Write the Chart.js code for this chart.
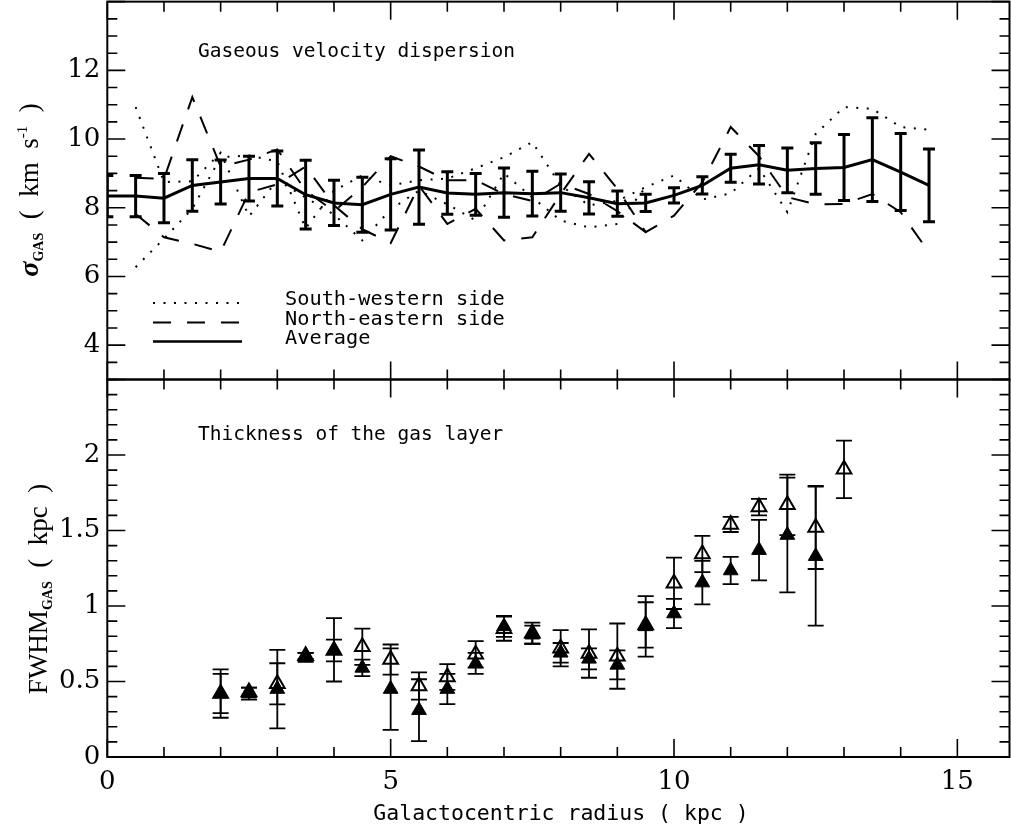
<!DOCTYPE html>
<html><head><meta charset="utf-8">
<script src="https://cdn.jsdelivr.net/npm/chart.js@4.4.1/dist/chart.umd.min.js"></script>
<style>
html,body{margin:0;padding:0;background:#fff;overflow:hidden;}
#wrap{position:relative;width:1011px;height:831px;background:#fff;}
canvas{position:absolute;left:0;top:0;}
</style></head><body>
<div id="wrap"><canvas id="topChart" width="1011" height="831"></canvas><canvas id="botChart" width="1011" height="831"></canvas></div>
<script>
// ---------------- DATA ----------------
const radiusAvg = [0,0.5,1,1.5,2,2.5,3,3.5,4,4.5,5,5.5,6,6.5,7,7.5,8,8.5,9,9.5,10,10.5,11,11.5,12,12.5,13,13.5,14,14.5];
const sigmaAvg  = [8.34,8.34,8.28,8.65,8.75,8.85,8.85,8.38,8.14,8.09,8.39,8.60,8.43,8.39,8.44,8.41,8.44,8.29,8.12,8.14,8.36,8.65,9.15,9.25,9.09,9.14,9.17,9.40,9.04,8.65];
const sigmaAvgErr = [0.60,0.60,0.72,0.75,0.64,0.65,0.80,1.00,0.66,0.80,1.04,1.08,0.62,0.61,0.72,0.65,0.54,0.47,0.37,0.25,0.22,0.25,0.41,0.56,0.65,0.75,0.96,1.22,1.12,1.06];

const radiusSide = [0.5,1,1.5,2,2.5,3,3.5,4,4.5,5,5.5,6,6.5,7,7.5,8,8.5,9,9.5,10,10.5,11,11.5,12,12.5,13,13.5,14,14.5];
const sigmaSW = [6.27,7.10,7.97,9.47,9.52,9.35,7.40,8.50,8.94,8.65,8.80,8.85,9.15,9.47,9.91,8.65,8.07,8.20,8.60,8.94,8.24,8.42,9.15,7.87,10.15,10.93,10.88,10.35,10.27];
const sigmaNE = [7.82,7.14,6.95,6.72,8.45,8.68,9.20,8.07,7.38,6.97,8.64,7.53,7.97,7.05,7.14,8.40,9.57,8.55,7.29,7.77,8.74,10.35,9.50,8.31,8.10,8.11,8.40,7.87,6.70];

const radiusSideInner = [0.5,1,1.5,2,2.5,3,3.5,4,4.5,5,5.5,6,6.5,7,7.5,8,8.5,9,9.5];
const sigmaSW2 = [10.93,8.75,8.77,9.60,7.75,8.80,8.30,7.80,7.05,7.95,8.50,8.10,7.63,9.00,8.30,7.63,7.43,7.53,8.60];
const sigmaNE2 = [8.87,8.84,11.22,9.20,9.40,9.70,8.50,7.90,8.60,9.50,9.20,8.80,8.80,8.40,8.20,8.70,8.40,7.90,7.29];

const radiusFwhm = [2,2.5,3,3.5,4,4.5,5,5.5,6,6.5,7,7.5,8,8.5,9,9.5,10,10.5,11,11.5,12,12.5,13];
const fwhmFilled    = [0.42,0.42,0.45,0.66,0.71,0.59,0.45,0.31,0.45,0.62,0.865,0.81,0.69,0.65,0.61,0.865,0.95,1.155,1.235,1.37,1.47,1.33,null];
const fwhmFilledErr = [0.16,0.04,0.26,0.03,0.21,0.055,0.27,0.205,0.10,0.07,0.07,0.06,0.065,0.07,0.096,0.20,0.097,0.144,0.09,0.20,0.38,0.46,null];
const fwhmOpen      = [0.42,0.43,0.485,0.67,0.705,0.73,0.645,0.47,0.53,0.68,0.85,0.82,0.72,0.685,0.668,0.875,1.15,1.345,1.54,1.655,1.67,1.52,1.905];
const fwhmOpenErr   = [0.13,0.03,0.136,0.02,0.072,0.12,0.10,0.09,0.085,0.088,0.08,0.07,0.12,0.16,0.216,0.15,0.17,0.12,0.05,0.055,0.20,0.275,0.19];

const xTickLabels = [0,5,10,15];
const topTickLabels = [4,6,8,10,12];
const botTickLabels = [0,0.5,1,1.5,2];

// ---------------- STYLE / LAYOUT ----------------
const X_MAX = 15.92;
const AREA_TOP = {left: 107.3, right: 1009.5, top: 1.65, bottom: 379.5};
const AREA_BOT = {left: 107.3, right: 1009.5, top: 379.5, bottom: 757};
const DOT = [2, 8.5], DASH = [18, 16];
const tickFont = {family: 'DejaVu Serif', size: 26};
const monoFont = '"DejaVu Sans Mono", monospace';
const serif = '"Liberation Serif", "DejaVu Serif", serif';

const pts = (xs, ys) => xs.map((x, i) => ({x, y: ys[i]}));

const errorBars = {
  id: 'errorBars',
  afterDatasetsDraw(chart) {
    const {ctx, chartArea: a} = chart;
    const xs = chart.scales.x, ys = chart.scales.y;
    ctx.save();
    ctx.beginPath(); ctx.rect(a.left, a.top, a.right - a.left, a.bottom - a.top); ctx.clip();
    chart.data.datasets.forEach(ds => {
      if (!ds.errors) return;
      ctx.strokeStyle = '#000'; ctx.lineWidth = ds.errWidth; ctx.setLineDash([]);
      ds.data.forEach((p, i) => {
        const e = ds.errors[i];
        if (p.y == null || e == null) return;
        const px = xs.getPixelForValue(p.x), y1 = ys.getPixelForValue(p.y + e), y2 = ys.getPixelForValue(p.y - e);
        const c = ds.errCap;
        ctx.beginPath();
        ctx.moveTo(px, y1); ctx.lineTo(px, y2);
        ctx.moveTo(px - c, y1); ctx.lineTo(px + c, y1);
        ctx.moveTo(px - c, y2); ctx.lineTo(px + c, y2);
        ctx.stroke();
      });
    });
    ctx.restore();
  }
};

function makeFrame(yMajor, yMinor) {
  return {
    id: 'frame',
    afterDraw(chart) {
      const {ctx, chartArea: a} = chart;
      const xs = chart.scales.x, ys = chart.scales.y;
      ctx.save();
      ctx.strokeStyle = '#000'; ctx.lineWidth = 2; ctx.setLineDash([]);
      ctx.strokeRect(a.left, a.top, a.right - a.left, a.bottom - a.top);
      ctx.lineWidth = 1.6;
      ctx.beginPath();
      for (let v = 0; v <= X_MAX + 1e-9; v += 1) {
        const L = (Math.abs(v % 5) < 1e-9) ? 18 : 10;
        const px = xs.getPixelForValue(v);
        ctx.moveTo(px, a.bottom); ctx.lineTo(px, a.bottom - L);
        ctx.moveTo(px, a.top); ctx.lineTo(px, a.top + L);
      }
      const n0 = Math.ceil(ys.min / yMinor - 1e-9), n1 = Math.floor(ys.max / yMinor + 1e-9);
      for (let k = n0; k <= n1; k++) {
        const v = k * yMinor;
        const r = v / yMajor;
        const L = Math.abs(r - Math.round(r)) < 1e-6 ? 18 : 10;
        const py = ys.getPixelForValue(v);
        ctx.moveTo(a.left, py); ctx.lineTo(a.left + L, py);
        ctx.moveTo(a.right, py); ctx.lineTo(a.right - L, py);
      }
      ctx.stroke();
      ctx.restore();
    }
  };
}

function drawRich(ctx, segs, x, y) {
  let cx = x;
  segs.forEach(s => {
    ctx.font = s.font;
    ctx.fillText(s.t, cx, y + (s.dy || 0));
    cx += ctx.measureText(s.t).width;
  });
}
function richWidth(ctx, segs) {
  let w = 0;
  segs.forEach(s => { ctx.font = s.font; w += ctx.measureText(s.t).width; });
  return w;
}

const topTexts = {
  id: 'topTexts',
  afterDraw(chart) {
    const ctx = chart.ctx;
    ctx.save();
    ctx.fillStyle = '#000'; ctx.textBaseline = 'alphabetic'; ctx.textAlign = 'left';
    ctx.font = '19.5px ' + monoFont;
    ctx.fillText('Gaseous velocity dispersion', 198, 57);
    const items = [
      {label: 'South-western side', dash: DOT, w: 2, y: 303},
      {label: 'North-eastern side', dash: DASH, w: 2, y: 322.5},
      {label: 'Average', dash: [], w: 2.6, y: 341.5}
    ];
    items.forEach(it => {
      ctx.beginPath(); ctx.setLineDash(it.dash); ctx.lineWidth = it.w; ctx.strokeStyle = '#000';
      ctx.moveTo(153, it.y); ctx.lineTo(242, it.y); ctx.stroke();
      ctx.setLineDash([]);
      ctx.font = '20.3px ' + monoFont;
      ctx.fillText(it.label, 285, it.y + 2);
    });
    const segs = [
      {t: '\u03c3', font: 'italic bold 28px ' + serif},
      {t: 'GAS', font: 'bold 14px ' + serif, dy: 5},
      {t: '  (  km  s', font: '27px ' + serif},
      {t: '-1', font: '15px ' + serif, dy: -11},
      {t: '  )', font: '27px ' + serif}
    ];
    const w = richWidth(ctx, segs);
    ctx.translate(38, 190); ctx.rotate(-Math.PI / 2);
    drawRich(ctx, segs, -w / 2, 0);
    ctx.restore();
  }
};

const botTexts = {
  id: 'botTexts',
  afterDraw(chart) {
    const ctx = chart.ctx;
    ctx.save();
    ctx.fillStyle = '#000'; ctx.textBaseline = 'alphabetic'; ctx.textAlign = 'left';
    ctx.font = '19.5px ' + monoFont;
    ctx.fillText('Thickness of the gas layer', 198, 440);
    ctx.font = '21.5px ' + monoFont;
    ctx.textAlign = 'center';
    ctx.fillText('Galactocentric radius ( kpc )', 561, 820);
    ctx.textAlign = 'left';
    const segs = [
      {t: 'FWHM', font: '27px ' + serif},
      {t: 'GAS', font: 'bold 14px ' + serif, dy: 5},
      {t: '  (  kpc  )', font: '27px ' + serif}
    ];
    const w = richWidth(ctx, segs);
    ctx.translate(47, 589); ctx.rotate(-Math.PI / 2);
    drawRich(ctx, segs, -w / 2, 0);
    ctx.restore();
  }
};

const noPad = s => { s.paddingTop = 0; s.paddingBottom = 0; s.paddingLeft = 0; s.paddingRight = 0; };

const yScaleBase = (min, max, labels) => ({
  type: 'linear', min, max,
  afterFit: s => { s.width = AREA_TOP.left; noPad(s); },
  afterBuildTicks: s => { s.ticks = labels.map(v => ({value: v})); },
  grid: {display: false, drawTicks: false},
  border: {display: false},
  ticks: {font: tickFont, color: '#000', padding: 7, callback: v => String(v)}
});

function pinArea(chart, t) {
  for (let k = 0; k < 4; k++) {
    const a = chart.chartArea;
    const p = Object.assign({}, chart.config.options.layout.padding);
    const dl = t.left - a.left, dr = a.right - t.right, dt = t.top - a.top, db = a.bottom - t.bottom;
    if (Math.abs(dl) + Math.abs(dr) + Math.abs(dt) + Math.abs(db) < 0.05) break;
    p.left += dl; p.right += dr; p.top += dt; p.bottom += db;
    chart.config.options.layout.padding = p;
    chart.update('none');
  }
}

// ---------------- TOP PANEL ----------------
const topChart = new Chart(document.getElementById('topChart'), {
  type: 'scatter',
  data: {
    datasets: [
      {label: 'South-western side', data: pts(radiusSide, sigmaSW), showLine: true, borderColor: '#000', borderWidth: 2, borderDash: DOT, pointRadius: 0, tension: 0},
      {label: 'South-western side (inner branch)', data: pts(radiusSideInner, sigmaSW2), showLine: true, borderColor: '#000', borderWidth: 2, borderDash: DOT, pointRadius: 0, tension: 0},
      {label: 'North-eastern side', data: pts(radiusSide, sigmaNE), showLine: true, borderColor: '#000', borderWidth: 2, borderDash: DASH, pointRadius: 0, tension: 0},
      {label: 'North-eastern side (inner branch)', data: pts(radiusSideInner, sigmaNE2), showLine: true, borderColor: '#000', borderWidth: 2, borderDash: DASH, pointRadius: 0, tension: 0},
      {label: 'Average', data: pts(radiusAvg, sigmaAvg), showLine: true, borderColor: '#000', borderWidth: 3, pointRadius: 0, tension: 0,
       errors: sigmaAvgErr, errWidth: 3, errCap: 6}
    ]
  },
  options: {
    responsive: false, animation: false, devicePixelRatio: 1,
    layout: {autoPadding: false, padding: {left: 0, right: 1011 - AREA_TOP.right, top: AREA_TOP.top, bottom: 831 - AREA_TOP.bottom}},
    plugins: {legend: {display: false}, tooltip: {enabled: false}},
    scales: {
      x: {type: 'linear', min: 0, max: X_MAX, display: false, afterFit: noPad},
      y: yScaleBase(3, 14, topTickLabels)
    }
  },
  plugins: [errorBars, makeFrame(2, 0.5), topTexts]
});
pinArea(topChart, AREA_TOP);

// ---------------- BOTTOM PANEL ----------------
const botChart = new Chart(document.getElementById('botChart'), {
  type: 'scatter',
  data: {
    datasets: [
      {label: 'FWHM (filled)', data: pts(radiusFwhm, fwhmFilled), showLine: false, pointStyle: 'triangle', pointRadius: 8.5,
       backgroundColor: '#000', borderColor: '#000', borderWidth: 1, errors: fwhmFilledErr, errWidth: 1.8, errCap: 8},
      {label: 'FWHM (open)', data: pts(radiusFwhm, fwhmOpen), showLine: false, pointStyle: 'triangle', pointRadius: 8.5,
       backgroundColor: 'rgba(0,0,0,0)', borderColor: '#000', borderWidth: 2, errors: fwhmOpenErr, errWidth: 1.8, errCap: 8}
    ]
  },
  options: {
    responsive: false, animation: false, devicePixelRatio: 1,
    layout: {autoPadding: false, padding: {left: 0, right: 1011 - AREA_BOT.right, top: AREA_BOT.top, bottom: 0}},
    plugins: {legend: {display: false}, tooltip: {enabled: false}},
    scales: {
      x: {type: 'linear', min: 0, max: X_MAX,
          afterFit: s => { s.height = 831 - AREA_BOT.bottom; noPad(s); },
          afterBuildTicks: s => { s.ticks = xTickLabels.map(v => ({value: v})); },
          grid: {display: false, drawTicks: false}, border: {display: false},
          ticks: {font: tickFont, color: '#000', padding: 10, maxRotation: 0, callback: v => String(v)}},
      y: yScaleBase(0, 2.5, botTickLabels)
    }
  },
  plugins: [errorBars, makeFrame(0.5, 0.1), botTexts]
});
pinArea(botChart, AREA_BOT);
</script>
</body></html>
